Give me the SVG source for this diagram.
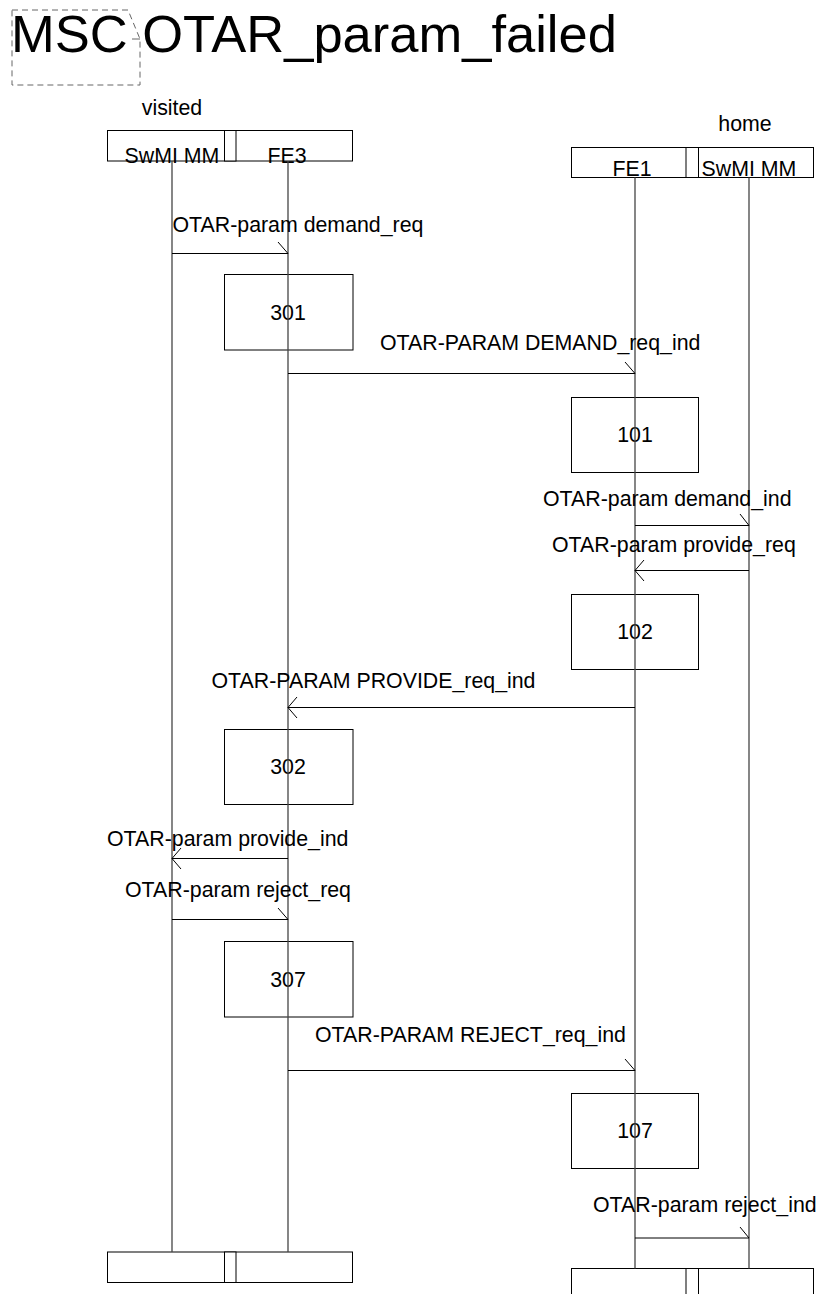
<svg xmlns="http://www.w3.org/2000/svg" width="822" height="1294" viewBox="0 0 822 1294">
<style>
text{font-family:"Liberation Sans",Arial,sans-serif;fill:#000}
.t{font-size:21.33px}
.c{text-anchor:middle}
.box{fill:#fff;stroke:#000;stroke-width:1}
.act{fill:none;stroke:#000;stroke-width:1}
.life{stroke:#444;stroke-width:1.3;fill:none}
.msg{stroke:#000;stroke-width:1;fill:none}
</style>
<rect width="822" height="1294" fill="#fff"/>
<g id="title">
<path d="M12,10 H128 L140,39 V85 H12 Z" fill="none" stroke="#666" stroke-width="1" stroke-dasharray="6,4"/>
<line x1="132" y1="39" x2="140" y2="39" stroke="#666" stroke-width="1"/>
<text x="11" y="52" font-size="52.5">MSC OTAR_param_failed</text>
</g>
<g id="visited">
<text class="t c" x="172" y="115">visited</text>
<rect class="box" x="107.5" y="130.5" width="245" height="30.5"/>
<rect class="box" x="224.5" y="130.5" width="11.5" height="30.5"/>
<text class="t c" x="172" y="162.5">SwMI MM</text>
<text class="t c" x="287" y="162.5">FE3</text>
</g>
<g id="home">
<text class="t c" x="745" y="131">home</text>
<rect class="box" x="571.5" y="147.5" width="242" height="30"/>
<rect class="box" x="686" y="147.5" width="12.5" height="30"/>
<text class="t c" x="632" y="175.5">FE1</text>
<text class="t c" x="749" y="175.5">SwMI MM</text>
</g>
<g id="visited_end">
<rect class="box" x="107.5" y="1252" width="245" height="30.5"/>
<rect class="box" x="224.5" y="1252" width="11.5" height="30.5"/>
</g>
<g id="home_end">
<rect class="box" x="571.5" y="1268.5" width="242" height="32"/>
<rect class="box" x="686" y="1268.5" width="12.5" height="32"/>
</g>
<g id="box301"><rect class="act" x="224.5" y="274.5" width="128.5" height="75.5"/><text class="t c" x="288" y="320">301</text></g>
<g id="box101"><rect class="act" x="571.5" y="397.5" width="127" height="75"/><text class="t c" x="635" y="442">101</text></g>
<g id="box102"><rect class="act" x="571.5" y="594.5" width="127" height="75"/><text class="t c" x="635" y="639">102</text></g>
<g id="box302"><rect class="act" x="224.5" y="729.5" width="128.5" height="75"/><text class="t c" x="288" y="774">302</text></g>
<g id="box307"><rect class="act" x="224.5" y="941.5" width="128.5" height="75.5"/><text class="t c" x="288" y="987">307</text></g>
<g id="box107"><rect class="act" x="571.5" y="1093.5" width="127" height="75"/><text class="t c" x="635" y="1138">107</text></g>
<g id="lifelines">
<line class="life" x1="172" y1="161" x2="172" y2="1252"/>
<line class="life" x1="288" y1="161" x2="288" y2="1252"/>
<line class="life" x1="635" y1="177.5" x2="635" y2="1268.5"/>
<line class="life" x1="749" y1="177.5" x2="749" y2="1268.5"/>
</g>
<g id="connectors">
<path class="msg" d="M172,253.5 H288 M278,242 L288,253.5"/>
<text class="t" x="172.5" y="232">OTAR-param demand_req</text>
<path class="msg" d="M288,373.5 H635 M625,362 L635,373.5"/>
<text class="t" x="380" y="350">OTAR-PARAM DEMAND_req_ind</text>
<path class="msg" d="M635,525.5 H749 M740,514 L749,525.5"/>
<text class="t" x="543" y="506">OTAR-param demand_ind</text>
<path class="msg" d="M749,570.5 H635 M644,560 L635,570.5 L644,581"/>
<text class="t" x="552" y="552">OTAR-param provide_req</text>
<path class="msg" d="M635,707.5 H288 M297,697 L288,707.5 L297,718"/>
<text class="t" x="211.5" y="688">OTAR-PARAM PROVIDE_req_ind</text>
<path class="msg" d="M288,858.5 H172 M181,848 L172,858.5 L181,869"/>
<text class="t" x="107" y="846">OTAR-param provide_ind</text>
<path class="msg" d="M172,919.5 H288 M278,908 L288,919.5"/>
<text class="t" x="125" y="897">OTAR-param reject_req</text>
<path class="msg" d="M288,1070.5 H635 M625,1059 L635,1070.5"/>
<text class="t" x="315" y="1042">OTAR-PARAM REJECT_req_ind</text>
<path class="msg" d="M635,1238 H749 M740,1227 L749,1238"/>
<text class="t" x="593" y="1212">OTAR-param reject_ind</text>
</g>
</svg>
